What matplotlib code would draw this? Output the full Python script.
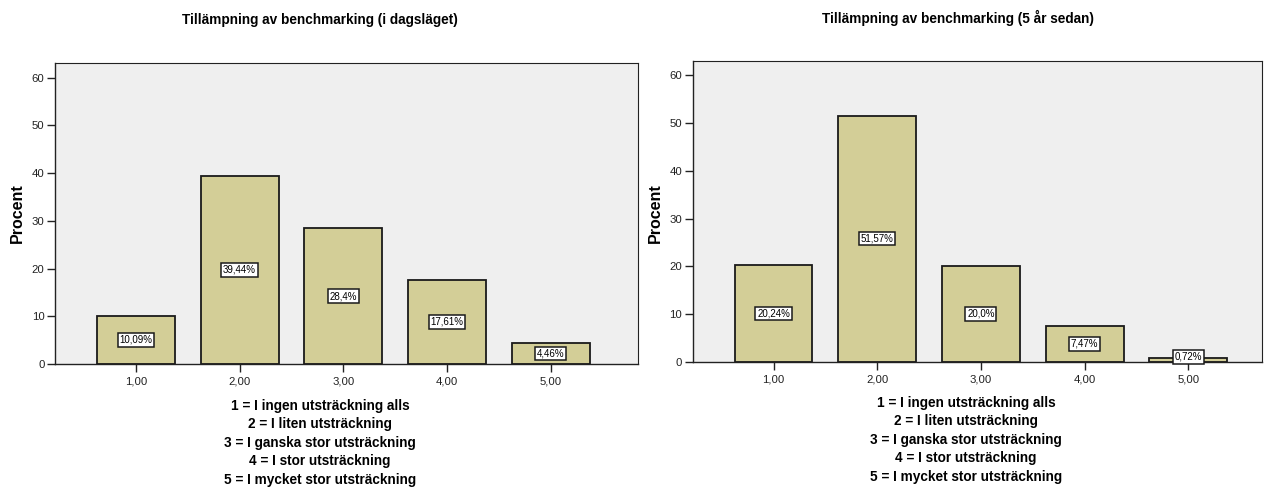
import matplotlib.pyplot as plt

plt.rcParams["font.family"] = ["Liberation Sans", "DejaVu Sans"]

# Svarsalternativ (x-axeln)
kategorier = [1, 2, 3, 4, 5]
tick_etiketter = ["1,00", "2,00", "3,00", "4,00", "5,00"]

# Procent per alternativ
procent_idag = [10.09, 39.44, 28.4, 17.61, 4.46]
etiketter_idag = ["10,09%", "39,44%", "28,4%", "17,61%", "4,46%"]

procent_5ar = [20.24, 51.57, 20.0, 7.47, 0.72]
etiketter_5ar = ["20,24%", "51,57%", "20,0%", "7,47%", "0,72%"]

titlar = [
    "Tillämpning av benchmarking (i dagsläget)",
    "Tillämpning av benchmarking (5 år sedan)",
]

forklaring = (
    "1 = I ingen utsträckning alls\n"
    "2 = I liten utsträckning\n"
    "3 = I ganska stor utsträckning\n"
    "4 = I stor utsträckning\n"
    "5 = I mycket stor utsträckning"
)

W, H = 1264, 488
fig = plt.figure(figsize=(W / 100, H / 100), dpi=100)


def px(x0, y0, x1, y1):
    # pixelruta -> figurkoordinater
    return [x0 / W, 1 - y1 / H, (x1 - x0) / W, (y1 - y0) / H]


def rita(rect, varden, etiketter, xlim, titel_x, titel_y, text_x, text_y, ylab_x, titel):
    ax = fig.add_axes(rect)
    ax.set_facecolor("#efefef")
    ax.bar(kategorier, varden, width=0.75, color="#d3ce97",
           edgecolor="#1a1a1a", linewidth=1.3, zorder=2)
    for k, v, s in zip(kategorier, varden, etiketter):
        ax.text(k, max(v / 2, 1.0), s, ha="center", va="center", fontsize=7,
                zorder=3,
                bbox=dict(boxstyle="square,pad=0.18", facecolor="white",
                          edgecolor="#1a1a1a", linewidth=1.1))
    ax.set_xlim(*xlim)
    ax.set_ylim(0, 63.1)
    ax.set_xticks(kategorier)
    ax.set_xticklabels(tick_etiketter)
    ax.set_yticks(range(0, 61, 10))
    ax.tick_params(direction="out", length=6, width=1, labelsize=8.2,
                   colors="#222222", pad=1.5)
    ax.tick_params(axis="x", pad=3)
    for sida, sp in ax.spines.items():
        sp.set_color("#222222")
        sp.set_linewidth(1.0 if sida in ("left", "bottom") else 0.8)
    fig.text(titel_x / W, 1 - titel_y / H, titel, ha="center", va="center",
             fontsize=9.8, fontweight="bold")
    fig.text(text_x / W, 1 - text_y / H, forklaring, ha="center", va="top",
             fontsize=9.8, fontweight="bold", linespacing=1.4)
    fig.text(ylab_x / W, 1 - 213 / H, "Procent", rotation=90, ha="center",
             va="center", fontsize=11.5, fontweight="bold")
    return ax


rita(px(55, 62.7, 638, 364), procent_idag, etiketter_idag, (0.22, 5.84),
     320, 20, 320, 399, 17, titlar[0])
rita(px(692.7, 60.7, 1262, 361.7), procent_5ar, etiketter_5ar, (0.22, 5.71),
     958, 18, 966, 396, 655, titlar[1])

fig.savefig("out.png", dpi=100)
